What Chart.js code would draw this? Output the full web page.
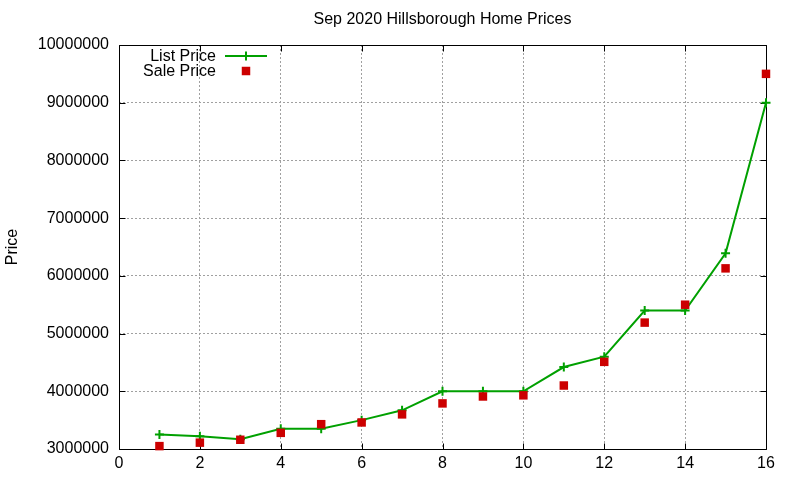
<!DOCTYPE html>
<html>
<head>
<meta charset="utf-8">
<script src="https://cdn.jsdelivr.net/npm/chart.js@4"></script>
<style>
html,body{margin:0;padding:0;background:#fff;}
#wrap{width:800px;height:480px;position:relative;}
</style>
</head>
<body>
<div id="wrap"><canvas id="c" width="800" height="480"></canvas></div>
<script>
const titleText = 'Sep 2020 Hillsborough Home Prices';
const yAxisTitle = 'Price';
const xValues = [1,2,3,4,5,6,7,8,9,10,11,12,13,14,15,16];
const listPrice = [3250000,3220000,3170000,3350000,3350000,3500000,3670000,4000000,4000000,4000000,4420000,4600000,5400000,5400000,6390000,9000000];
const salePrice = [3050000,3110000,3160000,3280000,3430000,3460000,3600000,3790000,3910000,3930000,4100000,4510000,5190000,5500000,6130000,9500000];
const seriesNames = ['List Price','Sale Price'];
const xTicks = [0,2,4,6,8,10,12,14,16];
const yTicks = [3000000,4000000,5000000,6000000,7000000,8000000,9000000,10000000];

const FONT = 'Liberation Sans, Arial, Helvetica, sans-serif';
const GREEN = '#00a000';
const RED = '#cc0000';

const framePlugin = {
  id: 'frame',
  beforeDatasetsDraw(chart) {
    const ctx = chart.ctx, a = chart.chartArea;
    const xs = chart.scales.x, ys = chart.scales.y;
    ctx.save();
    ctx.strokeStyle = '#000';
    ctx.lineWidth = 1;
    ctx.setLineDash([]);
    ctx.beginPath();
    const L = Math.round(a.left) + 0.5, R = Math.round(a.right) + 0.5;
    const T = Math.round(a.top) + 0.5, B = Math.round(a.bottom) + 0.5;
    ctx.rect(L, T, R - L, B - T);
    const tl = 6;
    xTicks.forEach(v => {
      const px = Math.round(xs.getPixelForValue(v)) + 0.5;
      ctx.moveTo(px, B); ctx.lineTo(px, B - tl);
      ctx.moveTo(px, T); ctx.lineTo(px, T + tl);
    });
    yTicks.forEach(v => {
      const py = Math.round(ys.getPixelForValue(v)) + 0.5;
      ctx.moveTo(L, py); ctx.lineTo(L + tl, py);
      ctx.moveTo(R, py); ctx.lineTo(R - tl, py);
    });
    ctx.stroke();
    ctx.restore();
  },
  afterDraw(chart) {
    const ctx = chart.ctx, a = chart.chartArea;
    ctx.save();
    ctx.fillStyle = '#000';
    ctx.font = '16px ' + FONT;
    ctx.textAlign = 'center';
    ctx.textBaseline = 'middle';
    ctx.fillText(titleText, (a.left + a.right) / 2, 20);
    ctx.save();
    ctx.translate(13, (a.top + a.bottom) / 2);
    ctx.rotate(-Math.PI / 2);
    ctx.fillText(yAxisTitle, 0, 0);
    ctx.restore();
    // legend
    ctx.textAlign = 'right';
    const rows = [56, 71];
    const textRight = 216;
    chart.data.datasets.forEach((ds, i) => {
      const y = rows[i];
      ctx.fillStyle = '#000';
      ctx.fillText(ds.label, textRight, y + 1);
      const cx = 246;
      if (ds.showLine !== false) {
        ctx.strokeStyle = ds.borderColor;
        ctx.lineWidth = 2;
        ctx.beginPath();
        ctx.moveTo(225, y); ctx.lineTo(267, y);
        ctx.stroke();
      }
      ctx.fillStyle = ds.pointBackgroundColor;
      ctx.strokeStyle = ds.pointBorderColor;
      ctx.lineWidth = ds.pointBorderWidth || 1;
      ctx.beginPath();
      if (ds.pointStyle === 'rect') {
        const s = ds.pointRadius * Math.SQRT1_2;
        ctx.fillRect(cx - s, y - s, 2 * s, 2 * s);
      } else {
        const r = ds.pointRadius;
        ctx.moveTo(cx - r, y); ctx.lineTo(cx + r, y);
        ctx.moveTo(cx, y - r); ctx.lineTo(cx, y + r);
        ctx.stroke();
      }
    });
    ctx.restore();
  }
};

new Chart(document.getElementById('c'), {
  type: 'scatter',
  data: {
    datasets: [
      {
        label: seriesNames[0],
        data: xValues.map((x, i) => ({x, y: listPrice[i]})),
        showLine: true,
        borderColor: GREEN,
        backgroundColor: GREEN,
        borderWidth: 2,
        pointStyle: 'cross',
        pointRadius: 4.5,
        pointBorderWidth: 2,
        pointBorderColor: GREEN,
        pointBackgroundColor: GREEN,
        pointHoverRadius: 4.5,
        tension: 0,
        clip: false,
        order: 2
      },
      {
        label: seriesNames[1],
        data: xValues.map((x, i) => ({x, y: salePrice[i]})),
        showLine: false,
        borderColor: RED,
        backgroundColor: RED,
        pointStyle: 'rect',
        pointRadius: 6,
        pointBorderWidth: 0,
        pointBorderColor: RED,
        pointBackgroundColor: RED,
        pointHoverRadius: 6,
        clip: false,
        order: 1
      }
    ]
  },
  options: {
    responsive: false,
    animation: false,
    devicePixelRatio: 1,
    layout: { padding: { top: 45, right: 34, left: 0, bottom: 0 } },
    plugins: {
      legend: { display: false },
      title: { display: false },
      tooltip: { enabled: false }
    },
    scales: {
      x: {
        type: 'linear',
        min: 0, max: 16,
        afterFit(s) { s.height = 31; },
        afterBuildTicks(s) { s.ticks = xTicks.map(v => ({value: v})); },
        ticks: { color: '#000', font: { family: FONT, size: 16 }, padding: 5, maxRotation: 0, autoSkip: false },
        grid: { color: '#a0a0a0', lineWidth: 1, drawTicks: false },
        border: { display: false, dash: [2, 2] }
      },
      y: {
        type: 'linear',
        min: 3000000, max: 10000000,
        afterFit(s) { s.width = 119; },
        afterBuildTicks(s) { s.ticks = yTicks.map(v => ({value: v})); },
        ticks: { color: '#000', font: { family: FONT, size: 16 }, padding: 10, autoSkip: false, callback: v => String(v) },
        grid: { color: '#a0a0a0', lineWidth: 1, drawTicks: false },
        border: { display: false, dash: [2, 2] }
      }
    }
  },
  plugins: [framePlugin]
});
</script>
</body>
</html>
